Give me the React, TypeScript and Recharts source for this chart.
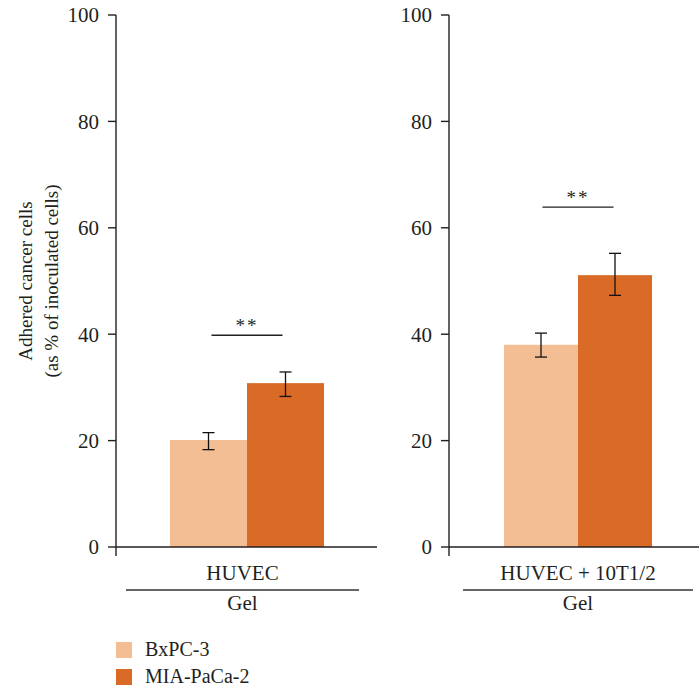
import React from "react";
import { BarChart, Bar, XAxis, YAxis, ErrorBar, Legend } from "recharts";

// values
const groups = ["HUVEC", "HUVEC + 10T1/2"];
const matrixLabel = "Gel";
const seriesNames = ["BxPC-3", "MIA-PaCa-2"];
const bxpcMeans = [20.1, 38.0];
const bxpcErrors = [[1.8, 1.4], [2.3, 2.2]];
const miaMeans = [30.8, 51.1];
const miaErrors = [[2.5, 2.1], [3.8, 4.1]];
const sigLevels = [39.8, 63.9];
const sigMarks = ["**", "**"];
const yTicks = [0, 20, 40, 60, 80, 100];

const COLORS = ["#F3BE93", "#DA6B27"];
const INK = "#231F20";
const FONT = "'Liberation Serif', 'DejaVu Serif', serif";
const TICK_FONT = 21;
const TICK_SIZE = 8;
const TICK_MARGIN = 9;

const panelData = (i: number) => [
  {
    group: groups[i],
    bxpc: bxpcMeans[i],
    bxpcErr: bxpcErrors[i],
    mia: miaMeans[i],
    miaErr: miaErrors[i],
    sig: sigLevels[i],
    sigMark: sigMarks[i],
  },
];

// y tick, plus the short stub of the y axis below zero
const YTick = (props: any) => {
  const { x, y, payload } = props;
  const axisX = x + TICK_SIZE + TICK_MARGIN;
  return (
    <g>
      <text x={x} y={y} dy="0.35em" textAnchor="end" fontSize={TICK_FONT} fontFamily={FONT} fill={INK}>
        {payload.value}
      </text>
      {payload.value === 0 && <line x1={axisX} y1={y} x2={axisX} y2={y + 9} stroke={INK} strokeWidth={1.4} />}
    </g>
  );
};

// category label, rule and matrix label under it
const makeGroupTick = (dx: number, half: number) => (props: any) => {
  const { x, y, payload } = props;
  const cx = x + dx;
  return (
    <g fontFamily={FONT} fontSize={21} fill={INK}>
      <text x={cx} y={y + 33} textAnchor="middle">{payload.value}</text>
      <line x1={cx - half} y1={y + 43} x2={cx + half} y2={y + 43} stroke="#333" strokeWidth={1.6} />
      <text x={cx} y={y + 63} textAnchor="middle">{matrixLabel}</text>
    </g>
  );
};

// MIA bar with the significance bracket drawn from the same y scale
const MiaShape = (props: any) => {
  const { x, y, width, height, fill, payload } = props;
  const zeroY = y + height;
  const pxPerUnit = height / payload.mia;
  const sigY = zeroY - payload.sig * pxPerUnit;
  const half = 35.5;
  return (
    <g>
      <rect x={x} y={y} width={width} height={height} fill={fill} />
      <line x1={x - half} y1={sigY} x2={x + half} y2={sigY} stroke={INK} strokeWidth={1.3} />
      <text x={x} y={sigY - 3} textAnchor="middle" fontFamily={FONT} fontSize={19} letterSpacing={2} fill={INK}>
        {payload.sigMark}
      </text>
    </g>
  );
};

const YLabel = () => {
  const cy = 281;
  return (
    <g fontFamily={FONT} fontSize={19} fill={INK}>
      <text transform={`translate(32, ${cy}) rotate(-90)`} textAnchor="middle">Adhered cancer cells</text>
      <text transform={`translate(58, ${cy}) rotate(-90)`} textAnchor="middle">(as % of inoculated cells)</text>
    </g>
  );
};

const LegendBox = (props: any) => {
  const { payload } = props;
  return (
    <div style={{ paddingTop: 6, paddingLeft: 116, fontFamily: FONT, fontSize: 20, color: INK }}>
      {(payload || []).map((entry: any, index: number) => (
        <div key={`item-${index}`} style={{ display: "flex", alignItems: "center", height: 27 }}>
          <span style={{ display: "inline-block", width: 16, height: 16, background: entry.color, marginRight: 13 }} />
          <span>{entry.value}</span>
        </div>
      ))}
    </div>
  );
};

const Panel = ({ index, width, yWidth, gap, padLeft, tickDx, ruleHalf, showLabel, showLegend }: any) => (
  <BarChart
    width={width}
    height={687}
    data={panelData(index)}
    margin={{ top: 15, right: 0, left: 0, bottom: showLegend ? 0 : 57 }}
    barCategoryGap={gap}
    barGap={0}
  >
    <XAxis
      dataKey="group"
      height={83}
      tickSize={0}
      tickMargin={0}
      tickLine={false}
      padding={{ left: padLeft, right: 0 }}
      axisLine={{ stroke: INK, strokeWidth: 1.4 }}
      tick={makeGroupTick(tickDx, ruleHalf)}
      interval={0}
    />
    <YAxis
      width={yWidth}
      domain={[0, 100]}
      ticks={yTicks}
      interval={0}
      tickSize={TICK_SIZE}
      tickMargin={TICK_MARGIN}
      axisLine={{ stroke: INK, strokeWidth: 1.4 }}
      tickLine={{ stroke: INK, strokeWidth: 1.4 }}
      tick={<YTick />}
      label={showLabel ? <YLabel /> : undefined}
    />
    <Bar dataKey="bxpc" name={seriesNames[0]} fill={COLORS[0]} isAnimationActive={false}>
      <ErrorBar dataKey="bxpcErr" direction="y" width={6} stroke="#111" strokeWidth={1.3} />
    </Bar>
    <Bar dataKey="mia" name={seriesNames[1]} fill={COLORS[1]} shape={<MiaShape />} isAnimationActive={false}>
      <ErrorBar dataKey="miaErr" direction="y" width={6} stroke="#111" strokeWidth={1.3} />
    </Bar>
    {showLegend && (
      <Legend
        layout="vertical"
        align="center"
        verticalAlign="bottom"
        content={<LegendBox />}
        wrapperStyle={{ left: 0, bottom: 0, width: width, height: 57 }}
      />
    )}
  </BarChart>
);

export default function App() {
  return (
    <div style={{ position: "absolute", left: 0, top: 0, width: 699, height: 687, background: "#fff" }}>
      <div style={{ position: "absolute", left: 0, top: 0 }}>
        <Panel index={0} width={377} yWidth={116} gap={54} padLeft={0} tickDx={-4} ruleHalf={116.5} showLabel showLegend />
      </div>
      <div style={{ position: "absolute", left: 330, top: 0 }}>
        <Panel index={1} width={369} yWidth={119} gap={47} padLeft={8} tickDx={0} ruleHalf={115} />
      </div>
    </div>
  );
}
